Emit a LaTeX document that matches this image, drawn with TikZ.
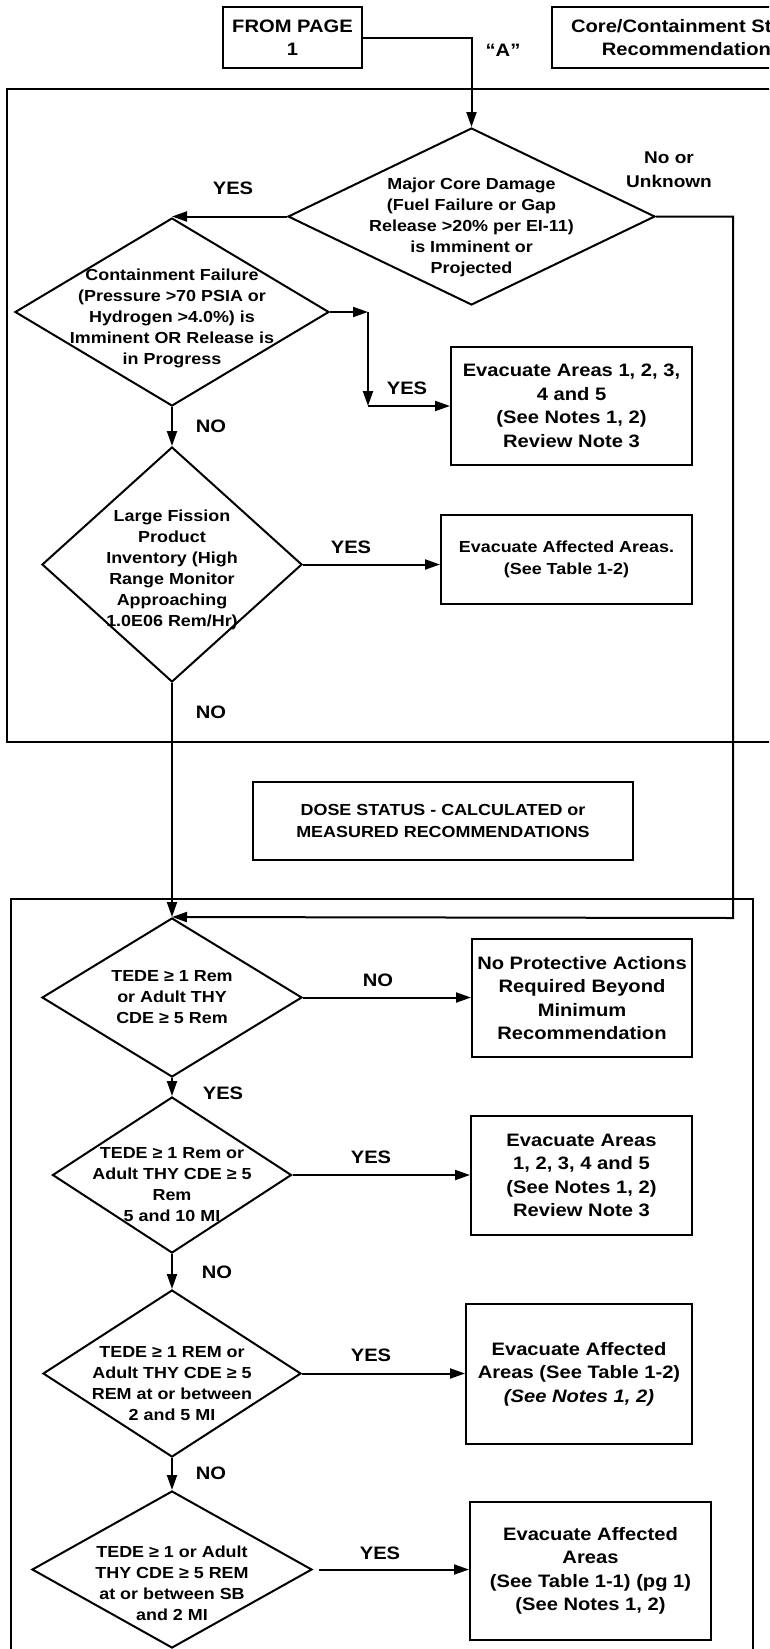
\documentclass[tikz,border=0pt]{standalone}
\usepackage{fontspec}
\newfontfamily\chartfont{Liberation Sans}[FakeStretch=1.12]
\usepackage{tikz}
\usetikzlibrary{arrows.meta,positioning,shapes.geometric}

\begin{document}
\begin{tikzpicture}[
  x=1pt, y=-1pt, line width=2pt,
  box/.style={draw, align=center, inner sep=3pt, font=\chartfont\bfseries\fontsize{18}{23.5}\selectfont},
  smallbox/.style={box, font=\chartfont\bfseries\fontsize{16}{22}\selectfont},
  dia/.style={draw, diamond, inner sep=0pt},
  dtext/.style={align=center, font=\chartfont\bfseries\fontsize{16}{21}\selectfont},
  lbl/.style={align=center, font=\chartfont\bfseries\fontsize{18}{24}\selectfont},
  arr/.style={-{Triangle[length=15pt,width=10pt]}}
]
\useasboundingbox (0,0) rectangle (769,1649);
\clip (0,0) rectangle (769,1649);

\draw (7,89) rectangle (800,742);
\draw (11,899) rectangle (753,1700);

\node[box, minimum width=139pt, minimum height=61pt] (frompage) at (292.5,37.5) {FROM PAGE\\1};
\node[box, minimum width=280pt, minimum height=61pt] (corestatus) at (692,37.5) {Core/Containment Status\\Recommendations};
\node[smallbox, minimum width=380pt, minimum height=78pt] (dose) at (443,821) {DOSE STATUS - CALCULATED or\\MEASURED RECOMMENDATIONS};

\node[dia, minimum width=367pt, minimum height=177pt,
  label={[dtext, yshift=-11pt]center:{Major Core Damage\\(Fuel Failure or Gap\\Release >20\% per EI-11)\\is Imminent or\\Projected}}] (core) at (471.5,216.5) {};
\node[dia, minimum width=314pt, minimum height=188pt,
  label={[dtext, yshift=-6pt]center:{Containment Failure\\(Pressure >70 PSIA or\\Hydrogen >4.0\%) is\\Imminent OR Release is\\in Progress}}] (contain) at (172,312) {};
\node[dia, minimum width=260pt, minimum height=235pt,
  label={[dtext, yshift=-5pt]center:{Large Fission\\Product\\Inventory (High\\Range Monitor\\Approaching\\1.0E06 Rem/Hr)}}] (fission) at (172,564.5) {};
\node[dia, minimum width=260pt, minimum height=159pt,
  label={[dtext]center:{TEDE ≥ 1 Rem\\or Adult THY\\CDE ≥ 5 Rem}}] (tede1) at (172,997.5) {};
\node[dia, minimum width=239pt, minimum height=156pt,
  label={[dtext, yshift=-10pt]center:{TEDE ≥ 1 Rem or\\Adult THY CDE ≥ 5\\Rem\\5 and 10 MI}}] (tede2) at (172,1175) {};
\node[dia, minimum width=258pt, minimum height=167pt,
  label={[dtext, yshift=-10pt]center:{TEDE ≥ 1 REM or\\Adult THY CDE ≥ 5\\REM at or between\\2 and 5 MI}}] (tede3) at (172,1373.5) {};
\node[dia, minimum width=280pt, minimum height=157pt,
  label={[dtext, yshift=-14pt]center:{TEDE ≥ 1 or Adult\\THY CDE ≥ 5 REM\\at or between SB\\and 2 MI}}] (tede4) at (172,1569.5) {};

\node[box, minimum width=241pt, minimum height=118pt] (evacall) at (571.5,406) {Evacuate Areas 1, 2, 3,\\4 and 5\\(See Notes 1, 2)\\Review Note 3};
\node[smallbox, minimum width=251pt, minimum height=89pt] (evacaff) at (566.5,559.5) {Evacuate Affected Areas.\\(See Table 1-2)};
\node[box, minimum width=220pt, minimum height=118pt] (noaction) at (582,998) {No Protective Actions\\Required Beyond\\Minimum\\Recommendation};
\node[box, minimum width=221pt, minimum height=119pt] (evacten) at (581.5,1175.5) {Evacuate Areas\\1, 2, 3, 4 and 5\\(See Notes 1, 2)\\Review Note 3};
\node[box, minimum width=226pt, minimum height=140pt] (evacfive) at (579,1374) {Evacuate Affected\\Areas (See Table 1-2)\\\itshape (See Notes 1, 2)};
\node[box, minimum width=241pt, minimum height=138pt] (evactwo) at (590.5,1571) {Evacuate Affected\\Areas\\(See Table 1-1) (pg 1)\\(See Notes 1, 2)};

\coordinate (unkturn) at (733,918);
\coordinate (yesturn1) at (368,312);
\coordinate (yesturn2) at (368,406);

\draw[arr] (frompage.east) -| (core.north);
\draw[arr] (core.west) -- (core.west -| contain.north);
\draw[arr] (core.east) -| (unkturn) -- (tede1.north);
\draw[arr] (contain.east) -- (yesturn1);
\draw[arr] (yesturn1) -- (yesturn2);
\draw[arr] (yesturn2) -- (evacall.west);
\draw[arr] (contain.south) -- (fission.north);
\draw[arr] (fission.east) -- (fission.east -| evacaff.west);
\draw[arr] (fission.south) -- (tede1.north);
\draw[arr] (tede1.east) -- (tede1.east -| noaction.west);
\draw[arr] (tede1.south) -- (tede2.north);
\draw[arr] (tede2.east) -- (tede2.east -| evacten.west);
\draw[arr] (tede2.south) -- (tede3.north);
\draw[arr] (tede3.east) -- (tede3.east -| evacfive.west);
\draw[arr] (tede3.south) -- (tede4.north);
\draw[arr, shorten <=6pt] (tede4.east) -- (tede4.east -| evactwo.west);

\node[lbl] (quotea) at (503,50) {“A”};
\node[lbl] (yescore) at (233,188) {YES};
\node[lbl, font=\chartfont\bfseries\fontsize{17}{24}\selectfont] (unknown) at (669,170) {No or\\Unknown};
\node[lbl] (yescontain) at (407,388) {YES};
\node[lbl] (nocontain) at (211,426) {NO};
\node[lbl] (yesfission) at (351,547) {YES};
\node[lbl] (nofission) at (211,712) {NO};
\node[lbl] (notede1) at (378,980) {NO};
\node[lbl] (yestede1) at (223,1093) {YES};
\node[lbl] (yestede2) at (371,1157) {YES};
\node[lbl] (notede2) at (217,1272) {NO};
\node[lbl] (yestede3) at (371,1355) {YES};
\node[lbl] (notede3) at (211,1473) {NO};
\node[lbl] (yestede4) at (380,1553) {YES};
\end{tikzpicture}
\end{document}
